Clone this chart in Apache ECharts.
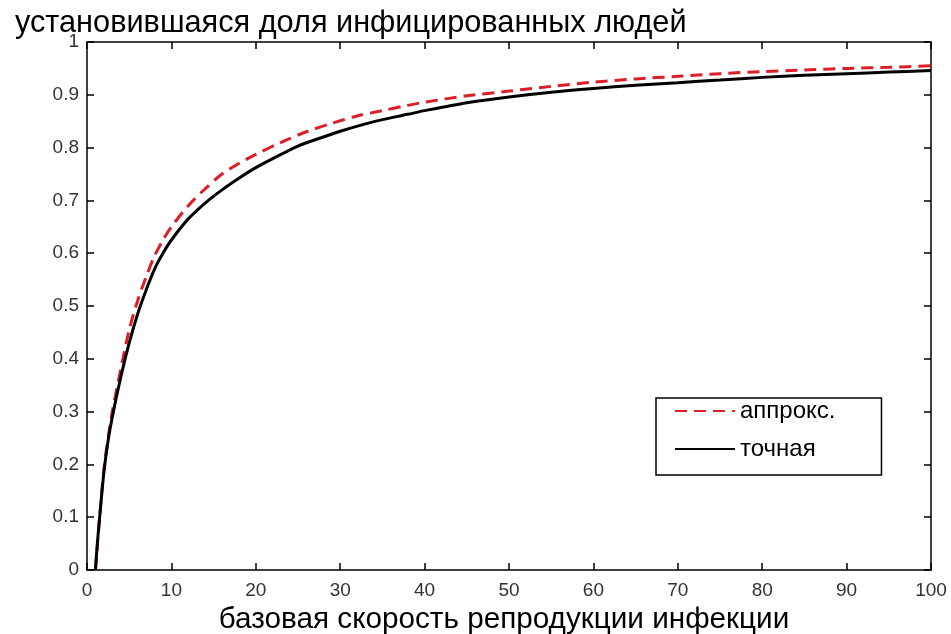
<!DOCTYPE html>
<html>
<head>
<meta charset="utf-8">
<script src="https://cdn.jsdelivr.net/npm/echarts@6/dist/echarts.min.js"></script>
<style>
html,body{margin:0;padding:0;background:#fff;}
#chart{width:951px;height:634px;}
</style>
</head>
<body>
<div id="chart"></div>
<script>
// Data
var titleText = 'установившаяся доля инфицированных людей';
var xAxisName = 'базовая скорость репродукции инфекции';
var legendNames = ['аппрокс.', 'точная'];

var exactX = [1, 1.2, 1.5, 2, 2.5, 3, 4, 5, 6, 7, 8, 9, 10, 12, 14, 16, 18, 20, 22, 25, 28, 30, 33, 35, 38, 40, 45, 50, 55, 60, 65, 70, 75, 80, 85, 90, 95, 100];
var exactY = [0, 0.045, 0.10, 0.185, 0.245, 0.29, 0.365, 0.43, 0.485, 0.53, 0.57, 0.60, 0.625, 0.665, 0.695, 0.72, 0.742, 0.762, 0.779, 0.803, 0.82, 0.831, 0.845, 0.853, 0.863, 0.87, 0.885, 0.896, 0.905, 0.912, 0.918, 0.923, 0.928, 0.933, 0.937, 0.94, 0.943, 0.946];

var approxX = [1, 1.5, 2, 2.5, 3, 4, 5, 6, 7, 8, 9, 10, 12, 14, 16, 18, 20, 23, 26, 29, 32, 35, 38, 40, 45, 50, 55, 60, 65, 70, 75, 80, 85, 90, 95, 100];
var approxY = [0, 0.10, 0.19, 0.25, 0.30, 0.38, 0.455, 0.51, 0.555, 0.595, 0.625, 0.65, 0.69, 0.722, 0.75, 0.77, 0.787, 0.81, 0.83, 0.846, 0.86, 0.87, 0.88, 0.886, 0.898, 0.907, 0.916, 0.924, 0.93, 0.935, 0.94, 0.944, 0.947, 0.95, 0.952, 0.955];

function pairs(xs, ys) { return xs.map(function (x, i) { return [x, ys[i]]; }); }

var FONT = 'Liberation Sans, Arial, sans-serif';
var chart = echarts.init(document.getElementById('chart'));
var tickStyle = { show: true, inside: true, length: 7, lineStyle: { color: '#000', width: 1.5 } };
var lineStyleAxis = { show: true, onZero: false, lineStyle: { color: '#000', width: 1.5 } };

chart.setOption({
  animation: false,
  backgroundColor: '#fff',
  title: {
    text: titleText,
    left: 10,
    top: 3,
    textStyle: { fontFamily: FONT, fontSize: 30.7, fontWeight: 'normal', color: '#000' }
  },
  grid: { left: 87, right: 20, top: 42, bottom: 64, containLabel: false, outerBoundsMode: 'none' },
  legend: {
    orient: 'vertical',
    left: 656,
    top: 398,
    data: legendNames,
    itemWidth: 60,
    itemHeight: 14,
    itemGap: 14,
    padding: [1, 46, 14, 18],
    borderColor: '#000',
    borderWidth: 1.5,
    backgroundColor: '#fff',
    itemStyle: { opacity: 0 },
    textStyle: { fontFamily: FONT, fontSize: 24, color: '#000' }
  },
  xAxis: [{
    type: 'value', min: 0, max: 100, interval: 10,
    position: 'bottom',
    name: xAxisName,
    nameLocation: 'middle',
    nameGap: 33,
    nameTextStyle: { fontFamily: FONT, fontSize: 29.7, color: '#000', verticalAlign: 'top', padding: [0, 10, 0, 0] },
    axisLine: lineStyleAxis,
    axisTick: tickStyle,
    axisLabel: { fontFamily: FONT, fontSize: 19, color: '#333', margin: 11 },
    splitLine: { show: false }
  }, {
    type: 'value', min: 0, max: 100, interval: 10,
    position: 'top',
    axisLine: lineStyleAxis,
    axisTick: tickStyle,
    axisLabel: { show: false },
    splitLine: { show: false }
  }],
  yAxis: [{
    type: 'value', min: 0, max: 1, interval: 0.1,
    position: 'left',
    axisLine: lineStyleAxis,
    axisTick: tickStyle,
    axisLabel: { fontFamily: FONT, fontSize: 19, color: '#333', margin: 8 },
    splitLine: { show: false }
  }, {
    type: 'value', min: 0, max: 1, interval: 0.1,
    position: 'right',
    axisLine: lineStyleAxis,
    axisTick: tickStyle,
    axisLabel: { show: false },
    splitLine: { show: false }
  }],
  series: [{
    name: legendNames[0],
    type: 'line',
    xAxisIndex: 0, yAxisIndex: 0,
    data: pairs(approxX, approxY),
    showSymbol: false,
    symbol: 'none',
    smooth: 0.3,
    itemStyle: { color: '#dc1e28' },
    lineStyle: { color: '#dc1e28', width: 3, type: [12, 7] }
  }, {
    name: legendNames[1],
    type: 'line',
    xAxisIndex: 0, yAxisIndex: 0,
    data: pairs(exactX, exactY),
    showSymbol: false,
    symbol: 'none',
    smooth: 0.3,
    itemStyle: { color: '#000' },
    lineStyle: { color: '#000', width: 3 }
  }]
});
</script>
</body>
</html>
